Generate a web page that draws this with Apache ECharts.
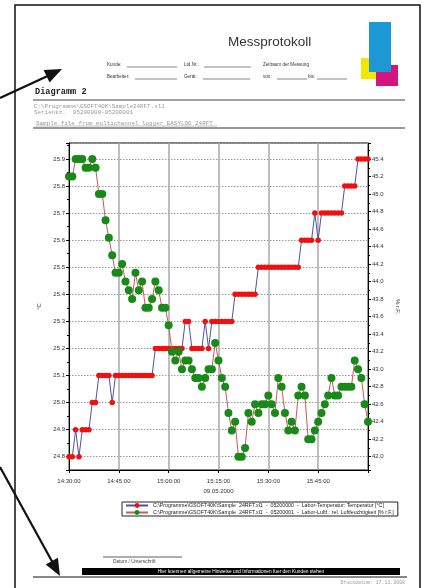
<!DOCTYPE html>
<html><head><meta charset="utf-8">
<script src="https://cdn.jsdelivr.net/npm/echarts@6/dist/echarts.min.js"></script>
<style>html,body{margin:0;padding:0;background:#fff}#c{width:424px;height:588px}</style>
</head><body><div id="c"></div>
<script>
const times = [
"14:30:00","14:31:00","14:32:00","14:33:00","14:34:00","14:35:00","14:36:00","14:37:00","14:38:00","14:39:00",
"14:40:00","14:41:00","14:42:00","14:43:00","14:44:00","14:45:00","14:46:00","14:47:00","14:48:00","14:49:00",
"14:50:00","14:51:00","14:52:00","14:53:00","14:54:00","14:55:00","14:56:00","14:57:00","14:58:00","14:59:00",
"15:00:00","15:01:00","15:02:00","15:03:00","15:04:00","15:05:00","15:06:00","15:07:00","15:08:00","15:09:00",
"15:10:00","15:11:00","15:12:00","15:13:00","15:14:00","15:15:00","15:16:00","15:17:00","15:18:00","15:19:00",
"15:20:00","15:21:00","15:22:00","15:23:00","15:24:00","15:25:00","15:26:00","15:27:00","15:28:00","15:29:00",
"15:30:00","15:31:00","15:32:00","15:33:00","15:34:00","15:35:00","15:36:00","15:37:00","15:38:00","15:39:00",
"15:40:00","15:41:00","15:42:00","15:43:00","15:44:00","15:45:00","15:46:00","15:47:00","15:48:00","15:49:00",
"15:50:00","15:51:00","15:52:00","15:53:00","15:54:00","15:55:00","15:56:00","15:57:00","15:58:00","15:59:00",
"16:00:00"];
const labeledTimes = ["14:30:00","14:45:00","15:00:00","15:15:00","15:30:00","15:45:00"];
const dateLabelAt = "15:15:00";
const dateLabel = "09.05.2000";

const temperature = [
24.8,24.8,24.9,24.8,24.9,24.9,24.9,25.0,25.0,25.1,
25.1,25.1,25.1,25.0,25.1,25.1,25.1,25.1,25.1,25.1,
25.1,25.1,25.1,25.1,25.1,25.1,25.2,25.2,25.2,25.2,
25.2,25.2,25.2,25.2,25.2,25.3,25.3,25.2,25.2,25.2,
25.2,25.3,25.2,25.3,25.3,25.3,25.3,25.3,25.3,25.3,
25.4,25.4,25.4,25.4,25.4,25.4,25.4,25.5,25.5,25.5,
25.5,25.5,25.5,25.5,25.5,25.5,25.5,25.5,25.5,25.5,
25.6,25.6,25.6,25.6,25.7,25.6,25.7,25.7,25.7,25.7,
25.7,25.7,25.7,25.8,25.8,25.8,25.8,25.9,25.9,25.9,
25.9];
const humidity = [
45.2,45.2,45.4,45.4,45.4,45.3,45.3,45.4,45.3,45.0,
45.0,44.7,44.5,44.3,44.1,44.1,44.2,44.0,43.9,43.8,
44.1,43.9,44.0,43.7,43.7,43.8,44.0,43.9,43.7,43.7,
43.5,43.2,43.1,43.2,43.0,43.1,43.1,43.0,42.9,42.9,
42.8,42.9,43.0,43.0,43.3,43.1,42.9,42.8,42.5,42.3,
42.4,42.0,42.0,42.1,42.5,42.4,42.6,42.5,42.6,42.6,
42.7,42.6,42.5,42.9,42.8,42.5,42.3,42.4,42.3,42.7,
42.8,42.7,42.2,42.2,42.3,42.4,42.5,42.6,42.7,42.9,
42.7,42.7,42.8,42.8,42.8,42.8,43.1,43.0,42.9,42.6,
42.4];

const tempName = "C:\\Programme\\GSOFT40K\\Sample  24RFT.xl1  -  05200000  -  Labor-Temperatur: Temperatur [°C]";
const humName  = "C:\\Programme\\GSOFT40K\\Sample  24RFT.xl1  -  05200001  -  Labor-Luftf.: rel. Luftfeuchtigkeit [% r.F.]";

const SANS = "Liberation Sans, Arial, sans-serif";
const MONO = "Liberation Mono, DejaVu Sans Mono, monospace";

function txt(text, x, y, size, opts) {
  opts = opts || {};
  return {type:'text', silent:true, z:10, style:{text:text, x:x, y:y,
    fontSize:size, fontFamily:opts.font||SANS, fontWeight:opts.bold?'bold':'normal',
    fill:opts.fill||'#333', textAlign:opts.align||'left', textVerticalAlign:'middle', verticalAlign:'middle'}};
}
function ln(x1,y1,x2,y2,color,w){
  return {type:'line', silent:true, z:10, shape:{x1:x1,y1:y1,x2:x2,y2:y2}, style:{stroke:color||'#333', lineWidth:w||1}};
}
function rect(x,y,w,h,fill,z){
  return {type:'rect', silent:true, z:z||10, shape:{x:x,y:y,width:w,height:h}, style:{fill:fill}};
}

const graphics = [
  {type:'rect', silent:true, z:1, shape:{x:15,y:5,width:405,height:620}, style:{fill:'none', stroke:'#111', lineWidth:1.5}},
  ln(0,98,52,74,'#111',2.2),
  {type:'polygon', silent:true, z:10, shape:{points:[[62,69],[49.6,82.5],[43.6,69.9]]}, style:{fill:'#111'}},
  ln(0,467,54,565,'#111',2.2),
  {type:'polygon', silent:true, z:10, shape:{points:[[60,576],[57.9,557.7],[45.7,564.5]]}, style:{fill:'#111'}},
  rect(361,58,16,21,'#f3e600',11),
  rect(376,65,22,21,'#d4157d',12),
  rect(369,22,22,50,'#1c98d4',13),
  txt('Messprotokoll', 228, 42, 13.5, {fill:'#333'}),
  txt('Kunde:', 107, 65, 4.6), ln(127,67,177,67,'#555',0.7),
  txt('Ltd.Nr.:', 184, 65, 4.6), ln(204,67,251,67,'#555',0.7),
  txt('Zeitraum der Messung', 263, 65, 4.6),
  txt('Bearbeiter:', 107, 77, 4.6), ln(135,79,177,79,'#555',0.7),
  txt('Gerät:', 184, 77, 4.6), ln(203,79,250,79,'#555',0.7),
  txt('von:', 263, 77, 4.6), ln(277,79,307,79,'#555',0.7),
  txt('bis:', 308, 77, 4.6), ln(317,79,347,79,'#555',0.7),
  txt('Diagramm 2', 35, 92, 8.6, {font:MONO, bold:true, fill:'#222'}),
  ln(33,100,405,100,'#444',1),
  txt('C:\\Programme\\GSOFT40K\\Sample24RFT.xl1', 34, 106, 5.9, {font:MONO, fill:'#999'}),
  txt('Serienkz.  05200000-05200001', 34, 112, 5.9, {font:MONO, fill:'#999'}),
  txt('Sample file from multichannel logger EASYLOG 24RFT', 36, 123, 5.9, {font:MONO, fill:'#999'}),
  ln(36,126,217,126,'#999',0.6),
  ln(33,128,405,128,'#777',1.6),
  ln(103,557,182,557,'#333',0.8),
  txt('Datum / Unterschrift', 113, 562, 4.8, {fill:'#444'}),
  rect(82,568,318,7,'#000',10),
  txt('Hier koennen allgemeine Hinweise und Informationen fuer den Kunden stehen', 241, 571.5, 4.8, {fill:'#fff', align:'center'}),
  ln(33,577,407,577,'#111',1),
  txt('Druckdatum: 17.11.2008', 405, 583, 4.9, {font:MONO, fill:'#999', align:'right'})
];

function isMult(v, step){ const q = v/step; return Math.abs(q - Math.round(q)) < 1e-6; }
function isLabeled(i){ return labeledTimes.indexOf(times[i]) >= 0; }
function isGridIdx(i){ return i % 15 === 0; }

const chart = echarts.init(document.getElementById('c'), null, {renderer:'canvas'});
chart.setOption({
  backgroundColor:'#fff',
  animation:false,
  textStyle:{fontFamily:SANS},
  grid:{left:69, right:56, top:143, bottom:118, show:true, borderColor:'#000', borderWidth:1, backgroundColor:'transparent'},
  legend:{
    orient:'vertical', left:122, top:502, itemGap:2, itemWidth:22, itemHeight:6,
    padding:[1,4,1,3], borderColor:'#222', borderWidth:1,
    textStyle:{fontSize:5.3, color:'#222', fontFamily:SANS},
    data:[tempName, humName]
  },
  xAxis:{
    type:'category', data:times, boundaryGap:false,
    axisLine:{lineStyle:{color:'#000', width:1}},
    axisTick:{show:true, interval:function(i){return isGridIdx(i);}, length:3, lineStyle:{color:'#000'}},
    axisLabel:{interval:function(i){return isLabeled(i);}, fontSize:6, color:'#333', margin:6, lineHeight:10,
      formatter:function(v){ return v === dateLabelAt ? v + '\n' + dateLabel : v; }},
    splitLine:{show:true, interval:function(i){return isGridIdx(i);}, lineStyle:{color:'#a8a8a8', width:1.5}}
  },
  yAxis:[{
    type:'value', position:'left', min:24.751, max:25.959, splitNumber:12,
    axisLine:{show:true, lineStyle:{color:'#000'}},
    axisTick:{show:true, length:3, lineStyle:{color:'#000'}},
    minorTick:{show:true, splitNumber:2, length:2, lineStyle:{color:'#000'}},
    axisLabel:{fontSize:6, color:'#333', margin:4, formatter:function(v){ return isMult(v,0.1) ? v.toFixed(1) : ''; }},
    splitLine:{show:true, lineStyle:{color:'#9a9a9a', type:[1.5,1.5], width:1}},
    name:'°C', nameLocation:'middle', nameRotate:90, nameGap:17, nameTextStyle:{fontSize:6, color:'#333'}
  },{
    type:'value', position:'right', min:41.848, max:45.583, splitNumber:18,
    axisLine:{show:true, lineStyle:{color:'#000'}},
    axisTick:{show:true, length:3, lineStyle:{color:'#000'}},
    minorTick:{show:true, splitNumber:2, length:2, lineStyle:{color:'#000'}},
    axisLabel:{fontSize:6, color:'#333', margin:4, formatter:function(v){ return isMult(v,0.2) ? v.toFixed(1) : ''; }},
    splitLine:{show:false},
    name:'% r.F.', nameLocation:'middle', nameRotate:-90, nameGap:20, nameTextStyle:{fontSize:6, color:'#333'}
  }],
  series:[{
    name:tempName, type:'line', yAxisIndex:0, data:temperature,
    symbol:'circle', symbolSize:5.5, showAllSymbol:true,
    itemStyle:{color:'#f01010'}, lineStyle:{color:'#5050a8', width:1}, z:3
  },{
    name:humName, type:'line', yAxisIndex:1, data:humidity,
    symbol:'circle', symbolSize:8, showAllSymbol:true,
    itemStyle:{color:'#178a17'}, lineStyle:{color:'#c85a5a', width:1}, z:4
  }],
  graphic:graphics
});
</script></body></html>
